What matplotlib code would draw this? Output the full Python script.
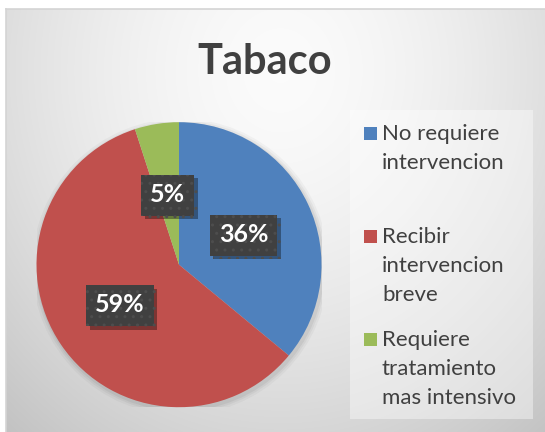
import numpy as np
import matplotlib
matplotlib.use("Agg")
import matplotlib.pyplot as plt
from matplotlib.patches import Rectangle
import matplotlib.patheffects as pe

title = "Tabaco"
categories = ["No requiere\nintervencion",
              "Recibir\nintervencion\nbreve",
              "Requiere\ntratamiento\nmas intensivo"]
values = [36, 59, 5]
colors = ["#4F81BD", "#C0504D", "#9BBB59"]

W, H = 545, 432
fig = plt.figure(figsize=(W / 100, H / 100), dpi=100)
fig.patch.set_facecolor("white")
FONT = "Lato"

def fx(px):
    return px / W

def fy(py):
    return 1 - py / H

# background gradient (chart area)
x0, y0 = 6, 9
bg = fig.add_axes([fx(x0), 0, 1 - fx(x0), fy(y0)])
yy, xx = np.mgrid[y0:H, x0:W].astype(float)
d = np.sqrt(((xx - 280) / 300) ** 2 + ((yy - 70) / 340) ** 2)
v = np.clip(0.985 - 0.13 * d ** 1.6, 0.74, 1)
bg.imshow(np.dstack([v, v, v]), aspect="auto", extent=[0, 1, 0, 1], interpolation="bilinear")
bg.set_xlim(0, 1); bg.set_ylim(0, 1)
bg.set_xticks([]); bg.set_yticks([])
for s in ["right", "bottom"]:
    bg.spines[s].set_visible(False)
for s in ["left", "top"]:
    bg.spines[s].set_color("#d4d4d4")
    bg.spines[s].set_linewidth(1.2)

# title
fig.text(fx(265), fy(74), title, ha="center", va="baseline", fontsize=30,
         fontweight="bold", color="#404040", family=FONT)

# pie
cx, cy, r = 179, 264.7, 142.5
ax = fig.add_axes([fx(cx - r), fy(cy + r), (2 * r) / W, (2 * r) / H])
ax.patch.set_visible(False)
for k, a in [(1.04, 0.03), (1.025, 0.04), (1.012, 0.05)]:
    ax.add_patch(plt.Circle((0.01, -0.015), k, color="black", alpha=a, lw=0, zorder=0))
wedges, texts, autotexts = ax.pie(values, colors=colors, startangle=90, counterclock=False,
                                  radius=1, autopct=lambda p: f"{p:.0f}%", pctdistance=0.5,
                                  wedgeprops=dict(linewidth=0),
                                  textprops=dict(color="white", fontsize=18, fontweight="bold",
                                                 family=FONT))
for w in wedges:
    w.set_zorder(2)
ax.set_xlim(-1, 1); ax.set_ylim(-1, 1)
ax.axis("off")

# label boxes sized from the rendered text
fig.canvas.draw()
renderer = fig.canvas.get_renderer()
for t in autotexts:
    t.set_zorder(6)
    bb = t.get_window_extent(renderer)
    cxp, cyp = (bb.x0 + bb.x1) / 2, (bb.y0 + bb.y1) / 2
    bw, bh = bb.width + 18, 41
    box = Rectangle((cxp - bw / 2, cyp - bh / 2 - 1), bw, bh, transform=None,
                    facecolor="#404040", edgecolor="#4d4d4d", linewidth=0,
                    hatch="..", zorder=5)
    box.set_path_effects([
        pe.SimplePatchShadow(offset=(2.5, -2.5), shadow_rgbFace="black", alpha=0.35),
        pe.Normal()])
    fig.add_artist(box)
    t.remove()
    fig.add_artist(t)
    t.set_transform(ax.transData)

# legend
fig.patches.append(Rectangle((fx(350), fy(419)), fx(533) - fx(350), fy(110) - fy(419),
                             transform=fig.transFigure, facecolor="white", alpha=0.4,
                             edgecolor="none"))
entry_base = [140, 243, 346]
line_step = 29
for lab, col, by in zip(categories, colors, entry_base):
    fig.patches.append(Rectangle((fx(364), fy(by)), fx(13), 13 / H,
                                 transform=fig.transFigure, facecolor=col, edgecolor="none"))
    for j, line in enumerate(lab.split("\n")):
        fig.text(fx(382), fy(by + j * line_step), line, ha="left", va="baseline",
                 fontsize=16, color="#404040", family=FONT)

fig.savefig("out.png", dpi=100)
